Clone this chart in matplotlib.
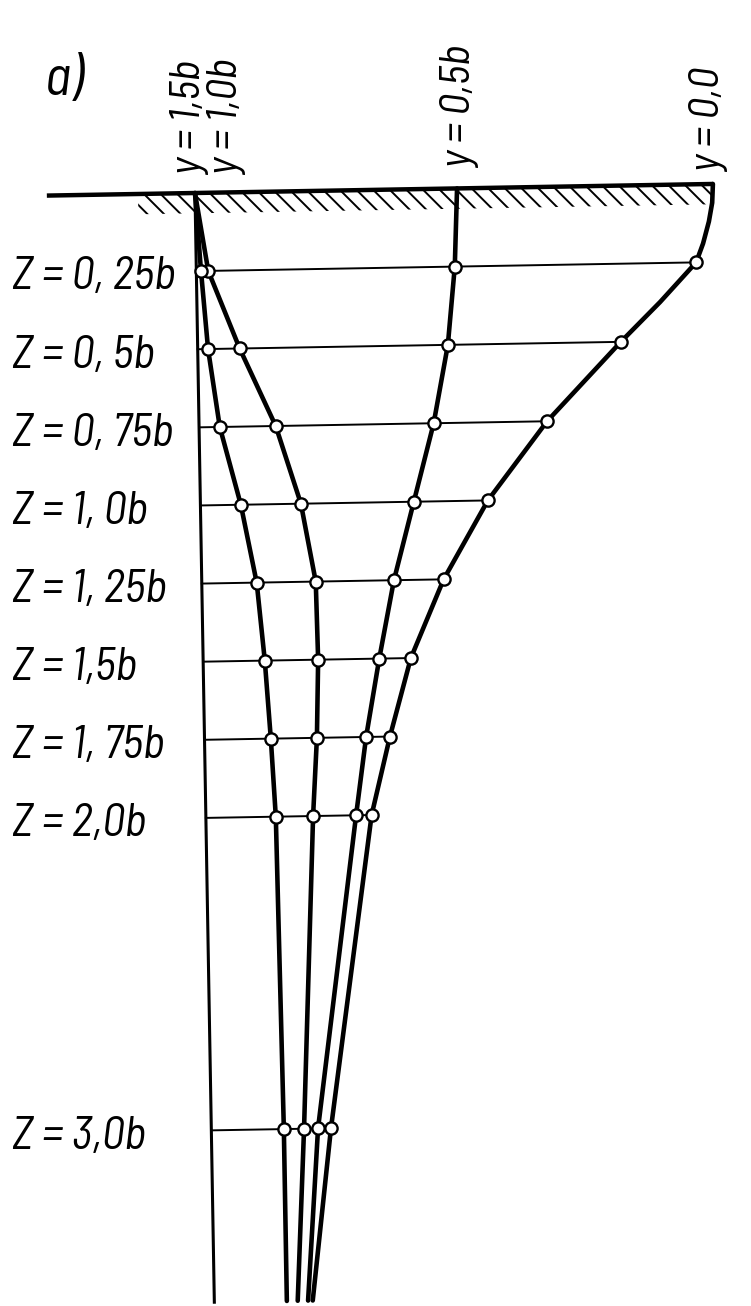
import matplotlib
matplotlib.use('Agg')
import matplotlib.pyplot as plt
from matplotlib.patches import Rectangle
from matplotlib.transforms import Affine2D


# depths (in units of b) at which sigma_z was evaluated
depths = [0.25, 0.5, 0.75, 1.0, 1.25, 1.5, 1.75, 2.0, 3.0]
depth_labels = ['Z = 0, 25b', 'Z = 0, 5b', 'Z = 0, 75b', 'Z = 1, 0b', 'Z = 1, 25b',
                'Z = 1,5b', 'Z = 1, 75b', 'Z = 2,0b', 'Z = 3,0b']

# sigma_z / p along each vertical, surface down to the end of the drawing
z_y00 = [0.0, 0.06, 0.12, 0.19, 0.25, 0.375, 0.5, 0.75, 1.0, 1.25, 1.5, 1.75, 2.0, 3.0, 3.55]
sigma_y00 = [1.0, 0.998, 0.991, 0.979, 0.965, 0.894, 0.817, 0.672, 0.555, 0.467, 0.401,
             0.358, 0.320, 0.231, 0.190]

z_curve = [0.0, 0.25, 0.5, 0.75, 1.0, 1.25, 1.5, 1.75, 2.0, 3.0, 3.55]
sigma_y05 = [0.506, 0.499, 0.483, 0.453, 0.412, 0.371, 0.340, 0.312, 0.290, 0.206, 0.181]
sigma_y10 = [0.0, 0.023, 0.081, 0.148, 0.194, 0.220, 0.222, 0.217, 0.207, 0.179, 0.161]
sigma_y15 = [0.0, 0.009, 0.020, 0.040, 0.078, 0.106, 0.119, 0.128, 0.135, 0.140, 0.140]

curve_labels = ['y = 0,0', 'y = 0,5b', 'y = 1,0b', 'y = 1,5b']

# surface line and its hatching, in sigma units
surface_left = -0.286
hatch_left = -0.11
hatch_depth = 0.065

font = ['Barlow Semi Condensed', 'Barlow Condensed', 'DejaVu Sans']
plt.rcParams['hatch.linewidth'] = 1.4


def main():
    fig = plt.figure(figsize=(7.51, 13.06), dpi=100)
    ax = fig.add_axes([0, 0, 1, 1])
    ax.set_xlim(-0.3764, 1.0734)
    ax.set_ylim(3.5616, -0.6176)
    ax.axis('off')

    # the sheet sits about a degree off square
    px, py = ax.transData.transform((0, 0))
    rot = ax.transData + Affine2D().rotate_deg_around(px, py, 1.0)

    ax.plot([surface_left, 1.0], [0, 0], color='black', lw=3.2,
            solid_capstyle='butt', transform=rot, clip_on=False)
    ax.add_patch(Rectangle((hatch_left, 0), 1.0 - hatch_left, hatch_depth, fill=False,
                           hatch='\\\\', edgecolor='black', linewidth=0, transform=rot))

    bottom = z_curve[-1]
    ax.plot([0, 0], [0, bottom], color='black', lw=2.2, transform=rot, clip_on=False)

    for z in depths:
        s = sigma_y00[z_y00.index(z)]
        ax.plot([0, s], [z, z], color='black', lw=1.4, transform=rot)

    curves = [(z_y00, sigma_y00), (z_curve, sigma_y05), (z_curve, sigma_y10), (z_curve, sigma_y15)]
    for zs, sig in curves:
        ax.plot(sig, zs, color='black', lw=3.3, solid_capstyle='round',
                solid_joinstyle='round', transform=rot, clip_on=False)
        pts = [(s, z) for s, z in zip(sig, zs) if z in depths]
        ax.plot([p[0] for p in pts], [p[1] for p in pts], 'o', ms=8.8, mfc='white',
                mec='black', mew=1.7, transform=rot, zorder=5)

    label_kw = dict(xycoords=rot, textcoords='offset pixels', rotation=90, va='bottom',
                    fontsize=31, style='italic', family=font)
    ax.annotate(curve_labels[0], xy=(sigma_y00[0], 0), xytext=(-4, 12), ha='center', **label_kw)
    ax.annotate(curve_labels[1], xy=(sigma_y05[0], 0), xytext=(3, 20), ha='center', **label_kw)
    # the two outer verticals both start at zero stress, so their labels share a column pair
    ax.annotate(curve_labels[3] + '\n' + curve_labels[2], xy=(sigma_y15[0], 0), xytext=(13, 18),
                ha='center', multialignment='left', linespacing=0.92, **label_kw)

    for z, text in zip(depths, depth_labels):
        ax.text(0.016, z + 0.02, text, transform=ax.get_yaxis_transform(),
                ha='left', va='center', fontsize=33, style='italic', family=font)

    ax.text(0.085, 0.938, 'a)', transform=ax.transAxes, ha='center', va='center',
            fontsize=40, style='italic', family=font)

    fig.savefig('out.png', dpi=100, facecolor='white')


if __name__ == "__main__":
    main()
